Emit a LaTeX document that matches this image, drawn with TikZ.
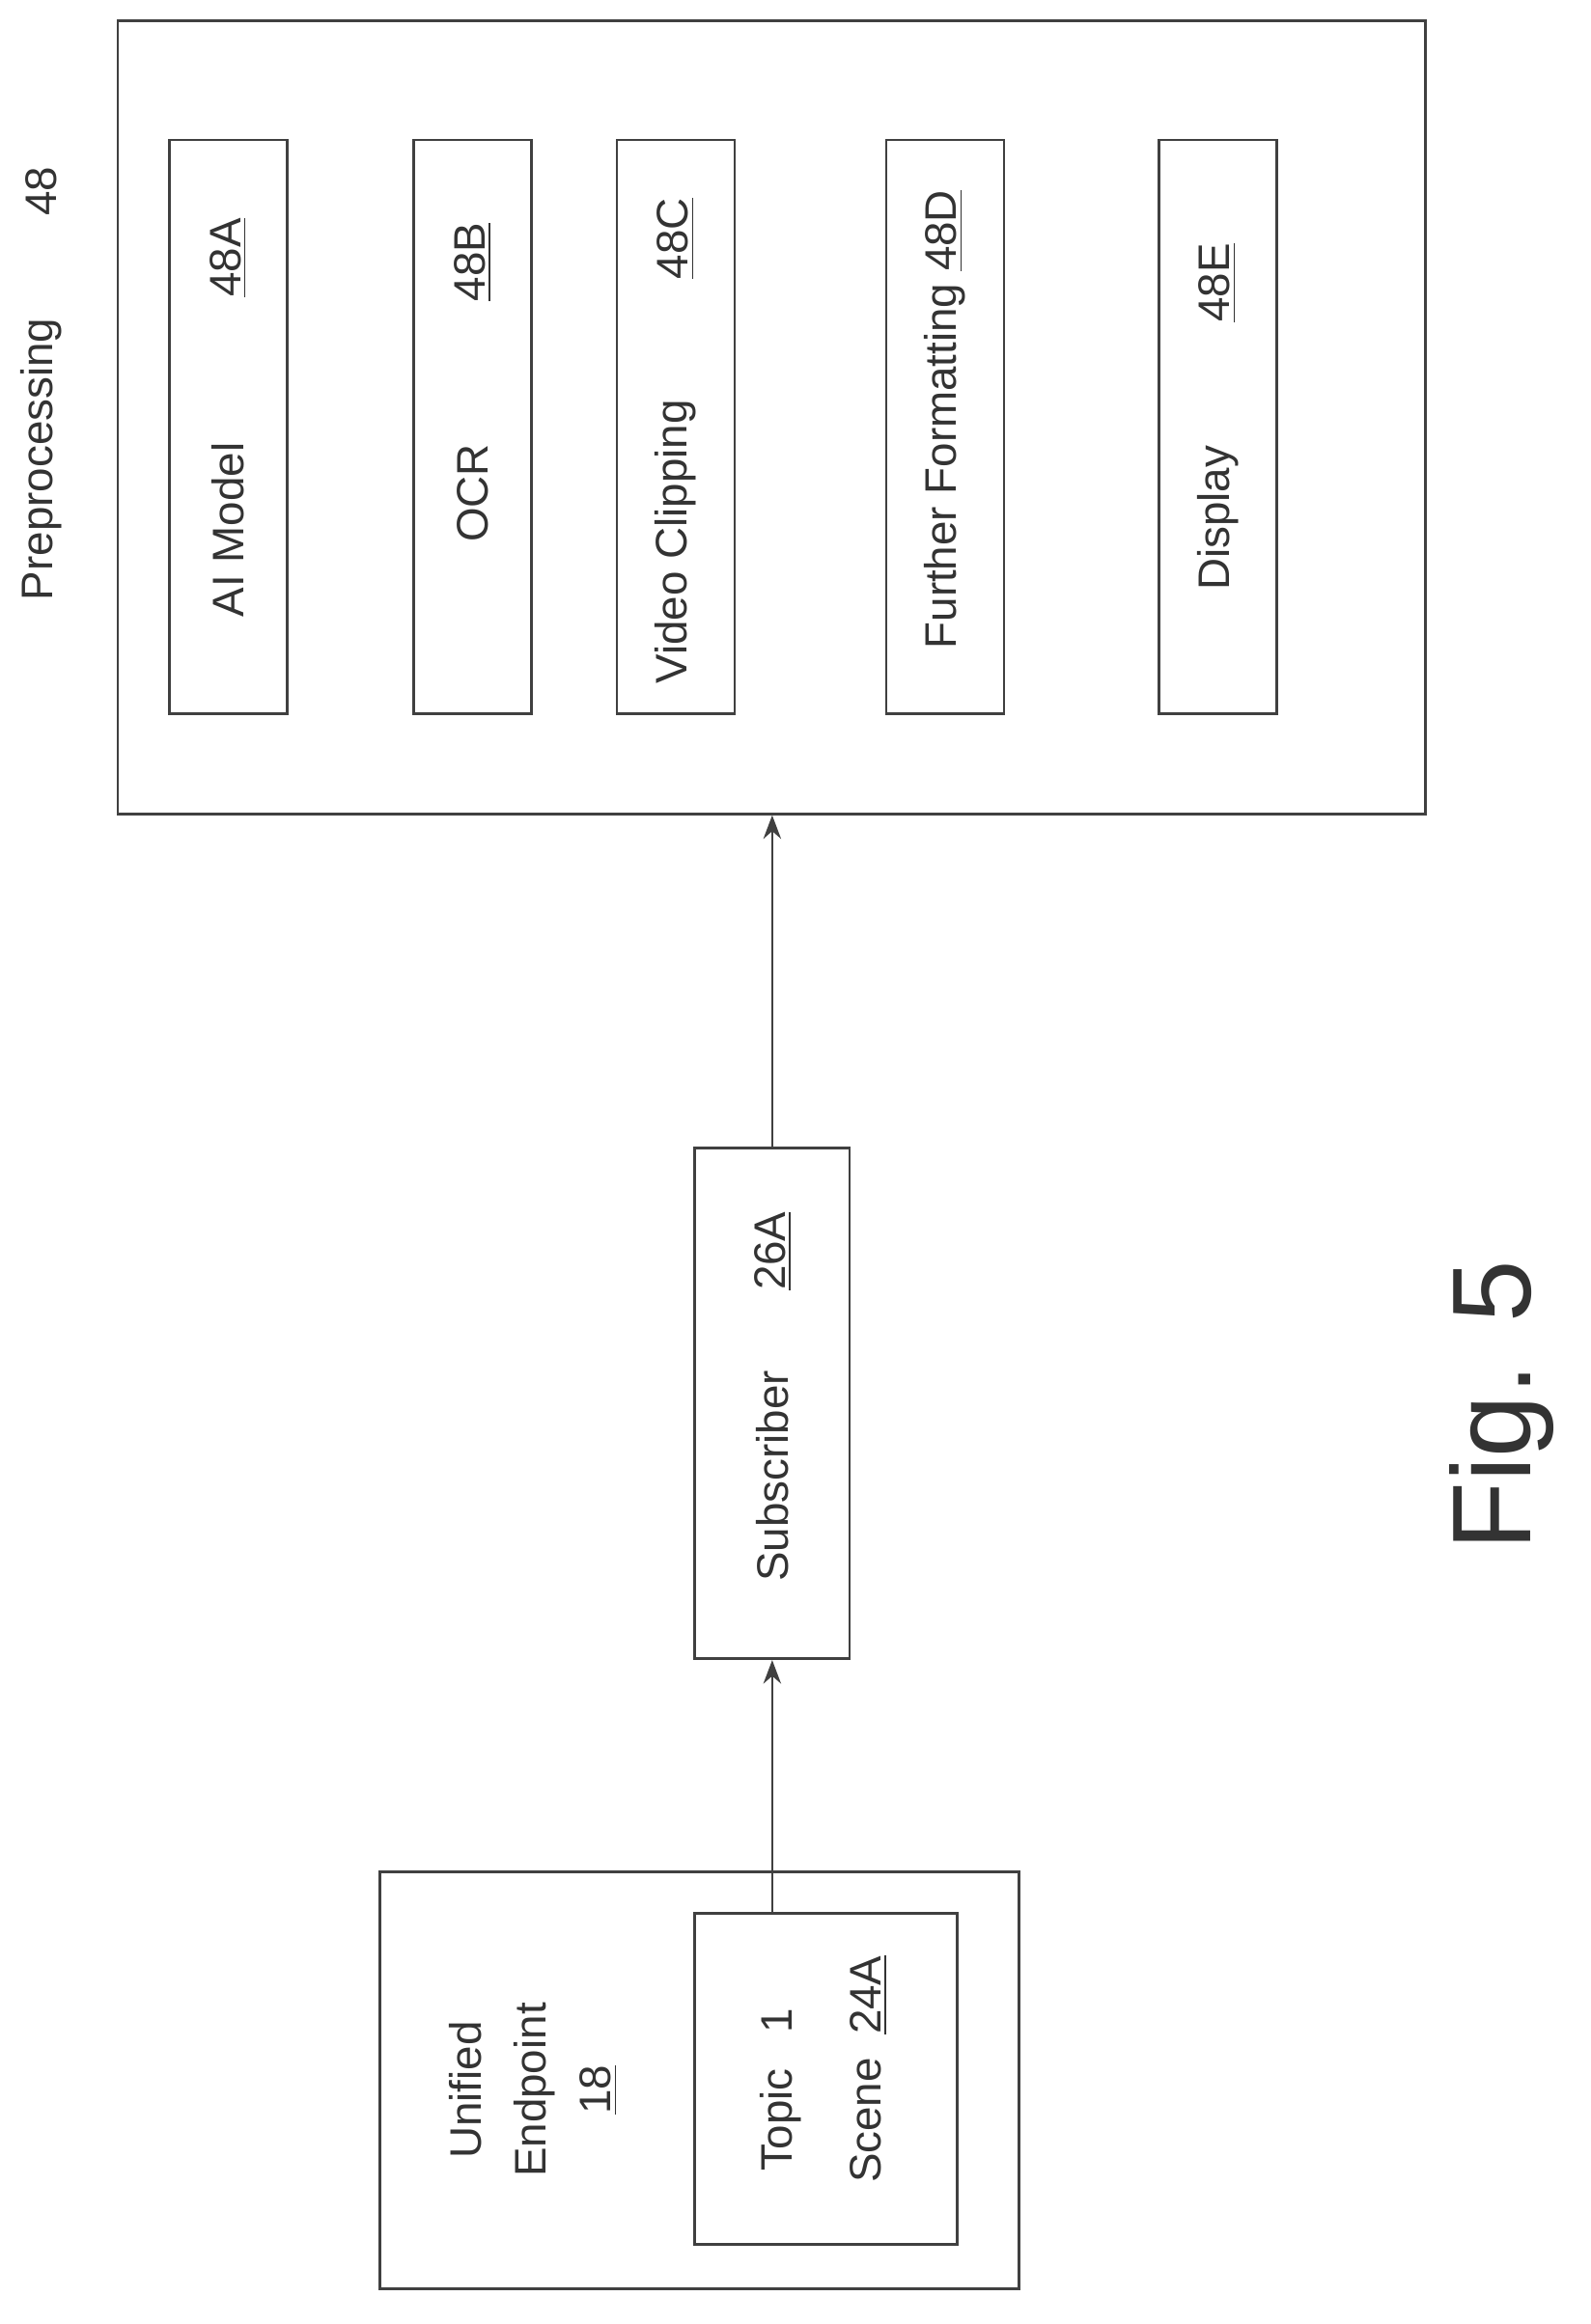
\documentclass[tikz,border=0pt]{standalone}
\usepackage{fontspec}
\setmainfont{Liberation Sans}
\usetikzlibrary{arrows.meta}
\begin{document}
\begin{tikzpicture}[x=0.5pt,y=-0.5pt,
  box/.style={draw=black!75,line width=0.9pt},
  lbl/.style={rotate=90,inner sep=0pt,font=\fontsize{15}{18}\selectfont,text=black!80},
  arr/.style={draw=black!75,line width=0.9pt,-{Stealth[length=8pt,width=6pt]}}]
\useasboundingbox (0,0) rectangle (1080,1579);
% Preprocessing
\node[box,minimum width=444pt,minimum height=269.5pt,inner sep=0pt] (pre) at (524,283.5) {};
\node[lbl] (prel) at (28,312) {Preprocessing};
\node[lbl] (pren) at (28,130) {48};
\foreach \n/\x in {a/155,b/321,c/459,d/642,e/827}{
  \node[box,minimum width=40pt,minimum height=195pt,inner sep=0pt] (\n) at (\x,290) {};}
\node[lbl] (at) at (155,360) {AI Model};
\node[lbl] (an) at (155,175) {\underline{48A}};
\node[lbl] (bt) at (321,335) {OCR};
\node[lbl] (bn) at (321,178) {\underline{48B}};
\node[lbl] (ct) at (459,368) {Video Clipping};
\node[lbl] (cn) at (459,162) {\underline{48C}};
\node[lbl] (dt) at (642,285) {Further Formatting \underline{48D}};
\node[lbl] (et) at (827,352) {Display};
\node[lbl] (en) at (827,192) {\underline{48E}};
% Subscriber
\node[box,minimum width=52.5pt,minimum height=173.5pt,inner sep=0pt] (sub) at (524.5,953.5) {};
\node[lbl] (subt) at (525,1003) {Subscriber};
\node[lbl] (subn) at (525,850) {\underline{26A}};
% Unified Endpoint
\node[box,minimum width=217pt,minimum height=141.5pt,inner sep=0pt] (ue) at (475,1413.5) {};
\node[lbl,align=center,font=\fontsize{15}{22}\selectfont] (uet) at (362,1420) {Unified\\Endpoint\\\underline{18}};
\node[box,minimum width=89pt,minimum height=112.5pt,inner sep=0pt] (topic) at (561,1412.5) {};
\node[lbl] (tt) at (530,1420) {Topic\hspace{12pt}1};
\node[lbl] (tn) at (590,1406) {Scene\hspace{8pt}\underline{24A}};
% arrows
\draw[arr] (topic.north -| sub.center) ++(0,0) coordinate (t1) (t1 |- topic.north) -- (sub.south);
\draw[arr] (sub.north) -- (sub.north |- pre.south);
% Fig
\node[rotate=90,inner sep=0pt,font=\fontsize{38}{40}\selectfont,text=black!80] (fig) at (1020,955) {Fig. 5};
\end{tikzpicture}
\end{document}
